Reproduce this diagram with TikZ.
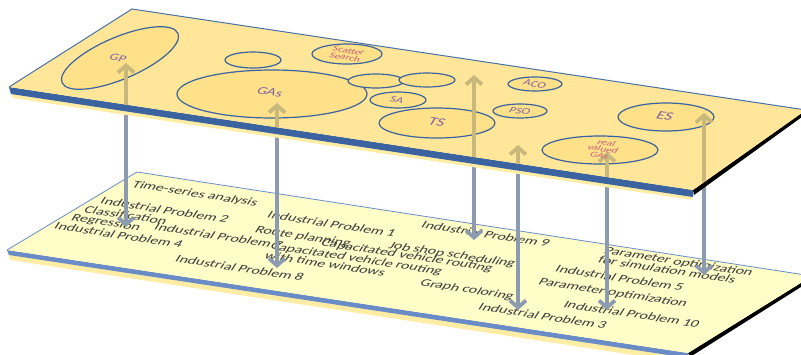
\documentclass[tikz,border=0pt]{standalone}
\usepackage{fontspec}
\setmainfont{Carlito}
\usetikzlibrary{arrows.meta}

\definecolor{topface}{HTML}{FFE699}
\definecolor{ellfill}{HTML}{FEE189}
\definecolor{lowface}{HTML}{FFFDC8}
\definecolor{rimblue}{HTML}{3A63A0}
\definecolor{lowrim}{HTML}{6A8CC6}
\definecolor{edgeblue}{HTML}{4A70AA}
\definecolor{lowedge}{HTML}{6A8CCB}
\definecolor{rimshadow}{HTML}{FFEDA6}
\definecolor{arrowgray}{HTML}{8D9BB0}
\definecolor{arrowtan}{HTML}{C8B87C}
\definecolor{labelpurple}{HTML}{8064A2}
\definecolor{labelred}{HTML}{C8607A}
\definecolor{probtext}{HTML}{3A3A3A}

\begin{document}
\begin{tikzpicture}[x=1pt,y=-1pt,
  method/.style={draw=rimblue, line width=1.2pt, fill=ellfill},
  mlabel/.style={font=\fontsize{10}{10}\selectfont, text=labelpurple,
    rotate=-9, xslant=0.4, xscale=1.4, inner sep=0, align=center},
  task/.style={font=\fontsize{12}{11}\selectfont, text=probtext,
    rotate=-8.6, xslant=0.45, xscale=1.3, yscale=0.9, inner sep=0, align=left},
  link/.style={line width=3.8pt, draw=arrowgray,
    {Straight Barb[length=7pt,width=16pt]}-{Straight Barb[length=7pt,width=16pt]}},
  linkhi/.style={link, draw=arrowtan},
]
\useasboundingbox (0,0) rectangle (801,354);
\clip (0,0) rectangle (801,354);

% ---------- lower plane: industrial problems ----------
\coordinate (LA) at (7,250);
\coordinate (LB) at (137,172);
\coordinate (LC) at (812,276);
\coordinate (LD) at (688,353);
\fill[rimshadow] (LA) -- (LD) -- (686,363) -- (10,260) -- cycle;
\fill[lowrim] (LA) -- (LD) -- (688,358) -- (9,255) -- cycle;
\fill[black] (LD) -- (LC) -- (812,280) -- (690,357) -- cycle;
\fill[lowface] (LA) -- (LB) -- (LC) -- (LD) -- cycle;
\draw[lowedge, line width=0.8pt] (LA) -- (LB) -- (LC);

\node[task] (t1) at (195,194) {Time-series analysis};
\node[task] (t2) at (165,210) {Industrial Problem 2};
\node[task] (t3) at (126,215) {Classification};
\node[task] (t4) at (106,223) {Regression};
\node[task] (t5) at (219,236) {Industrial Problem 7};
\node[task] (t6) at (119,235) {Industrial Problem 4};
\node[task] (t7) at (240,268) {Industrial Problem 8};
\node[task] (t8) at (332,224) {Industrial Problem 1};
\node[task] (t9) at (303,237) {Route planning};
\node[task] (t10) at (407,256) {Capacitated vehicle routing};
\node[task] (t11) at (354,263) {Capacitated vehicle routing\\with time windows};
\node[task] (t12) at (452,255) {Job shop scheduling};
\node[task] (t13) at (486,234) {Industrial Problem 9};
\node[task] (t14) at (467,290) {Graph coloring};
\node[task] (t15) at (543,316) {Industrial Problem 3};
\node[task] (t16) at (676,266) {Parameter optimization\\for simulation models};
\node[task] (t17) at (620,278) {Industrial Problem 5};
\node[task] (t18) at (613,293) {Parameter optimization};
\node[task] (t19) at (632,314) {Industrial Problem 10};

% ---------- links between the two levels ----------
\coordinate (a1t) at (126,63);  \coordinate (a1b) at (126,227);
\coordinate (a2t) at (277,103); \coordinate (a2b) at (277,268);
\coordinate (a3t) at (474,75);  \coordinate (a3b) at (474,240);
\coordinate (a4t) at (518,145); \coordinate (a4b) at (518,310);
\coordinate (a5t) at (607,152); \coordinate (a5b) at (607,310);
\coordinate (a6t) at (704,113); \coordinate (a6b) at (704,275);
\foreach \i in {1,...,6} {\draw[link] (a\i t) -- (a\i b);}

% ---------- upper plane: optimization methods ----------
\coordinate (TA) at (9,87);
\coordinate (TB) at (132,9);
\coordinate (TC) at (806,110);
\coordinate (TD) at (693,190);
\fill[rimshadow] (TA) -- (TD) -- (692,200) -- (13,98) -- cycle;
\fill[rimblue] (TA) -- (TD) -- (693,197) -- (11,94) -- cycle;
\fill[black] (TD) -- (TC) -- (806,114) -- (694,195) -- cycle;
\fill[topface] (TA) -- (TB) -- (TC) -- (TD) -- cycle;
\draw[edgeblue, line width=1pt] (TA) -- (TB) -- (TC);

\draw[method, rotate around={23:(120,58)}] (120,58) ellipse [x radius=63, y radius=21];
\draw[method] (253,60) ellipse [x radius=28, y radius=8];
\draw[method] (272,94) ellipse [x radius=95, y radius=24];
\draw[method] (347,54) ellipse [x radius=35, y radius=10];
\draw[method] (376,81) ellipse [x radius=28, y radius=7];
\draw[method] (427,80) ellipse [x radius=28, y radius=7];
\draw[method] (398,100) ellipse [x radius=28, y radius=8];
\draw[method] (437,123) ellipse [x radius=58, y radius=15];
\draw[method] (535,84) ellipse [x radius=27, y radius=7];
\draw[method] (520,111) ellipse [x radius=27, y radius=7];
\draw[method] (666,117) ellipse [x radius=48, y radius=14];
\draw[method] (600,150) ellipse [x radius=58, y radius=14];

% link ends seen through the upper plane
\begin{scope}
  \clip (TA) -- (TB) -- (TC) -- (TD) -- cycle;
  \foreach \i in {1,...,6} {\draw[linkhi] (a\i t) -- (a\i b);}
\end{scope}

\node[mlabel] (m1) at (118,58) {GP};
\node[mlabel, font=\fontsize{11}{11}\selectfont] (m2) at (270,92) {GAs};
\node[mlabel, text=labelred, font=\fontsize{8}{7}\selectfont] (m3) at (347,54) {Scatter\\Search};
\node[mlabel, font=\fontsize{9}{9}\selectfont] (m4) at (397,100) {SA};
\node[mlabel, font=\fontsize{12}{12}\selectfont] (m5) at (437,122) {TS};
\node[mlabel, font=\fontsize{9}{9}\selectfont] (m6) at (535,84) {ACO};
\node[mlabel, font=\fontsize{9}{9}\selectfont] (m7) at (520,111) {PSO};
\node[mlabel, font=\fontsize{12}{12}\selectfont] (m8) at (665,116) {ES};
\node[mlabel, text=labelred, font=\fontsize{8}{6.5}\selectfont] (m9) at (603,149) {real\\valued\\GAs};
\end{tikzpicture}
\end{document}
